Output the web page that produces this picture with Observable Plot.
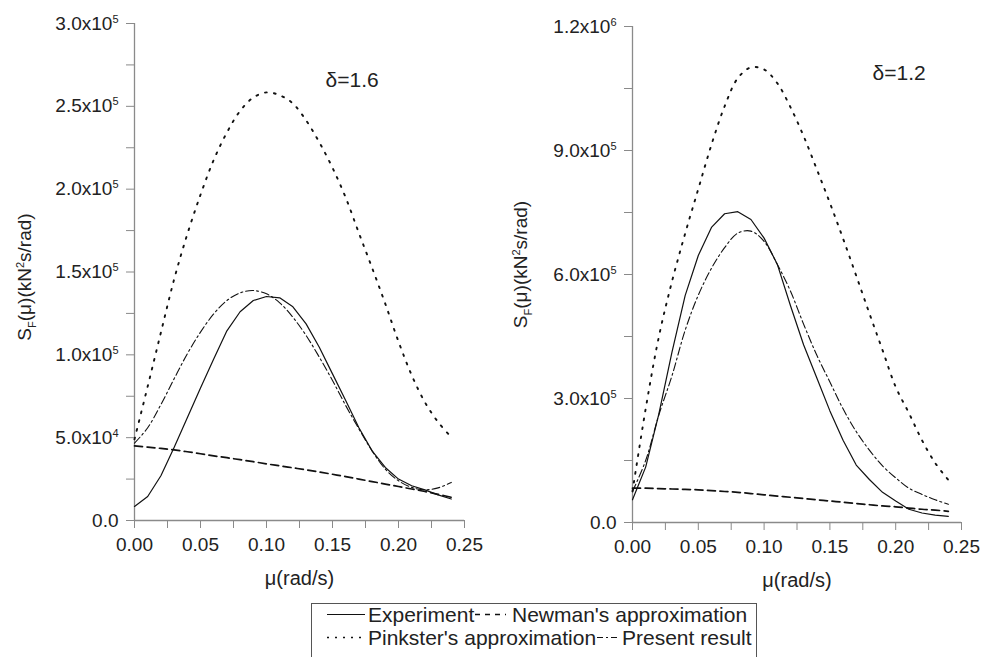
<!DOCTYPE html>
<html>
<head>
<meta charset="utf-8">
<script src="https://cdn.jsdelivr.net/npm/d3@7"></script>
<script src="https://cdn.jsdelivr.net/npm/@observablehq/plot@0.6"></script>
<style>
  html, body { margin: 0; padding: 0; background: #fff; }
  #wrap { position: relative; width: 994px; height: 657px; overflow: hidden; font-family: "Liberation Sans", Arial, sans-serif; }
  #left, #right, #legend { position: absolute; }
  #left { left: 0; top: 0; }
  #right { left: 500px; top: 0; }
  #legend { left: 311px; top: 603px; }
</style>
</head>
<body>
<div id="wrap">
  <div id="left"></div>
  <div id="right"></div>
  <div id="legend"></div>
</div>
<script>
// ---- data ----
const mu = [0,0.01,0.02,0.03,0.04,0.05,0.06,0.07,0.08,0.09,0.10,0.11,0.12,0.13,0.14,0.15,0.16,0.17,0.18,0.19,0.20,0.21,0.22,0.23,0.24];

const seriesNames = ["Experiment", "Newman's approximation", "Pinkster's approximation", "Present result"];

// delta = 1.6
const left_experiment = [8500,14500,27000,44000,62000,80000,97500,114500,126000,132800,135200,134400,129000,118700,104600,88500,72400,56000,42000,32000,25000,21000,18500,15500,13000];
const left_newman     = [45000,44300,43500,42600,41500,40300,39000,37900,36700,35500,34200,33000,31800,30600,29300,27900,26500,25000,23500,22000,20500,19000,17500,15800,14000];
const left_pinkster   = [49000,81000,113500,145500,172800,196600,217600,234200,247200,255300,258400,256700,251700,241500,228300,212900,194900,173500,152500,130800,108000,87700,71400,59400,50300];
const left_present    = [46700,56000,70000,85500,100600,113700,124700,132800,137400,138800,136800,131400,122700,111700,98600,84500,69400,55300,42000,31000,24000,20000,18500,19700,23000];

// delta = 1.2
const right_experiment = [55000,134000,262000,412000,549000,646000,714000,747000,752000,733000,688000,625000,525000,430000,350000,270000,199000,139000,104000,73000,52000,32000,23000,18000,15000];
const right_newman     = [83000,83000,82000,81000,80000,79000,77000,75000,73000,70000,67000,64000,61000,58000,55000,52000,49000,46000,43000,40000,38000,35000,32000,30000,27000];
const right_pinkster   = [75000,275000,449000,583000,699000,807000,914000,1007000,1075000,1101000,1096000,1063000,1005000,935000,855000,773000,687000,597000,506000,417000,328000,265000,199000,144000,103000];
const right_present    = [75000,150000,260000,355000,465000,550000,615000,665000,700000,705000,680000,625000,560000,480000,405000,340000,275000,220000,175000,137000,108000,83000,68000,55000,44000];

const xTicks = [0,0.025,0.05,0.075,0.10,0.125,0.15,0.175,0.20,0.225,0.25];
const xTickLabels = ["0.00","","0.05","","0.10","","0.15","","0.20","","0.25"];

const leftYTicks = [0,25000,50000,75000,100000,125000,150000,175000,200000,225000,250000,275000,300000];
const leftYTickLabels = ["0.0","","5.0x10^4","","1.0x10^5","","1.5x10^5","","2.0x10^5","","2.5x10^5","","3.0x10^5"];

const rightYTicks = [0,150000,300000,450000,600000,750000,900000,1050000,1200000];
const rightYTickLabels = ["0.0","","3.0x10^5","","6.0x10^5","","9.0x10^5","","1.2x10^6"];

const xLabel = "μ(rad/s)";
const yLabel = "SF(μ)(kN2s/rad)";
const leftAnnot = {x: 0.1447, y: 266000, text: "δ=1.6"};
const rightAnnot = {x: 0.1824, y: 1086000, text: "δ=1.2"};

// ---- styles for each series ----
const styles = {
  "Experiment": {strokeWidth: 1.2, dash: null, curve: "linear", legendDash: null},
  "Newman's approximation": {strokeWidth: 1.7, dash: "8,4.5", curve: "catmull-rom", legendDash: "5,5"},
  "Pinkster's approximation": {strokeWidth: 1.9, dash: "1.8,7.2", curve: "catmull-rom", legendDash: "2,6"},
  "Present result": {strokeWidth: 1.1, dash: "8,3,2,3", curve: "catmull-rom", legendDash: "6,3,2,3"}
};

const FONT = "'Liberation Sans', Arial, sans-serif";

function buildRows(arrs) {
  const rows = [];
  seriesNames.forEach((name, k) => {
    arrs[k].forEach((v, i) => rows.push({mu: mu[i], v, series: name}));
  });
  return rows;
}

function panel(opts) {
  const rows = buildRows(opts.arrays);
  const fmtX = d => xTickLabels[xTicks.findIndex(t => Math.abs(t - d) < 1e-9)] ?? "";
  const fmtY = d => opts.yTickLabels[opts.yTicks.findIndex(t => Math.abs(t - d) < 1e-6)] ?? "";
  const lines = seriesNames.map(name => Plot.line(rows.filter(r => r.series === name), {
    x: "mu", y: "v", stroke: "#111", strokeWidth: styles[name].strokeWidth,
    strokeDasharray: styles[name].dash ?? undefined, curve: styles[name].curve
  }));
  const svg = Plot.plot({
    width: opts.width, height: 600,
    marginLeft: opts.marginLeft, marginRight: opts.marginRight,
    marginTop: opts.marginTop, marginBottom: opts.marginBottom,
    style: {fontFamily: FONT, fontSize: "19px", background: "transparent", color: "#222", overflow: "visible"},
    x: {domain: [0, 0.25]},
    y: {domain: [0, opts.yMax]},
    marks: [
      Plot.ruleX([0], {stroke: "#8a8a8a", strokeWidth: 1.3}),
      Plot.ruleY([0], {stroke: "#8a8a8a", strokeWidth: 1.3}),
      Plot.axisX({ticks: xTicks, tickSize: 8, tickPadding: 9, tickFormat: fmtX, stroke: "#8a8a8a", fill: "#222", label: null, fontSize: 19}),
      Plot.axisY({ticks: opts.yTicks, tickSize: 8, tickPadding: 8, tickFormat: fmtY, stroke: "#8a8a8a", fill: "#222", label: null, fontSize: 19}),
      ...lines,
      Plot.text([opts.annot], {x: "x", y: "y", text: "text", textAnchor: "start", fontSize: 21, fill: "#222"}),
      Plot.text([xLabel], {frameAnchor: "bottom", dy: 58, textAnchor: "middle", lineAnchor: "middle", fontSize: 20, fill: "#222"}),
      Plot.text([yLabel], {frameAnchor: "left", dx: opts.yLabelDx, dy: opts.yLabelDy, rotate: -90, textAnchor: "middle", lineAnchor: "middle", fontSize: 19, fill: "#222"})
    ]
  });
  // superscripts / subscripts as real text
  d3.select(svg).selectAll("text").each(function() {
    const t = this.textContent;
    const sel = d3.select(this);
    if (t.includes("^")) {
      const [base, exp] = t.split("^");
      sel.text(base);
      sel.append("tspan").attr("dy", -7).attr("font-size", 11).text(exp);
    } else if (t === yLabel) {
      sel.text(null);
      sel.append("tspan").text("S");
      sel.append("tspan").attr("dy", 5).attr("font-size", 11).text("F");
      sel.append("tspan").attr("dy", -5).text("(μ)(kN");
      sel.append("tspan").attr("dy", -7).attr("font-size", 11).text("2");
      sel.append("tspan").attr("dy", 7).text("s/rad)");
    }
  });
  return svg;
}

document.getElementById("left").appendChild(panel({
  arrays: [left_experiment, left_newman, left_pinkster, left_present],
  width: 480, marginLeft: 134, marginRight: 16, marginTop: 23, marginBottom: 80,
  yMax: 300000, yTicks: leftYTicks, yTickLabels: leftYTickLabels,
  annot: leftAnnot, yLabelDx: -110, yLabelDy: 5
}));

document.getElementById("right").appendChild(panel({
  arrays: [right_experiment, right_newman, right_pinkster, right_present],
  width: 494, marginLeft: 132, marginRight: 33, marginTop: 26, marginBottom: 78,
  yMax: 1200000, yTicks: rightYTicks, yTickLabels: rightYTickLabels,
  annot: rightAnnot, yLabelDx: -112, yLabelDy: -10
}));

// ---- legend ----
(function legend() {
  const W = 446, H = 60;
  const svg = d3.create("svg").attr("width", W).attr("height", H)
    .style("font-family", FONT).style("font-size", "21px").style("overflow", "visible");
  svg.append("rect").attr("x", 0.5).attr("y", 0.5).attr("width", W - 1).attr("height", H - 1)
    .attr("fill", "#fff").attr("stroke", "#555").attr("stroke-width", 1);
  const items = [
    {name: seriesNames[0], x1: 16, x2: 54, tx: 57, row: 0},
    {name: seriesNames[1], x1: 164, x2: 195, tx: 201, row: 0},
    {name: seriesNames[2], x1: 16, x2: 54, tx: 57, row: 1},
    {name: seriesNames[3], x1: 286, x2: 308, tx: 311, row: 1}
  ];
  items.forEach(it => {
    const cy = it.row === 0 ? 11.5 : 34.5;
    const st = styles[it.name];
    svg.append("line").attr("x1", it.x1).attr("x2", it.x2).attr("y1", cy).attr("y2", cy)
      .attr("stroke", "#111").attr("stroke-width", Math.min(st.strokeWidth, 1.5))
      .attr("stroke-dasharray", st.legendDash);
    svg.append("text").attr("x", it.tx).attr("y", cy + 7.5).attr("fill", "#222").text(it.name);
  });
  document.getElementById("legend").appendChild(svg.node());
})();
</script>
</body>
</html>
